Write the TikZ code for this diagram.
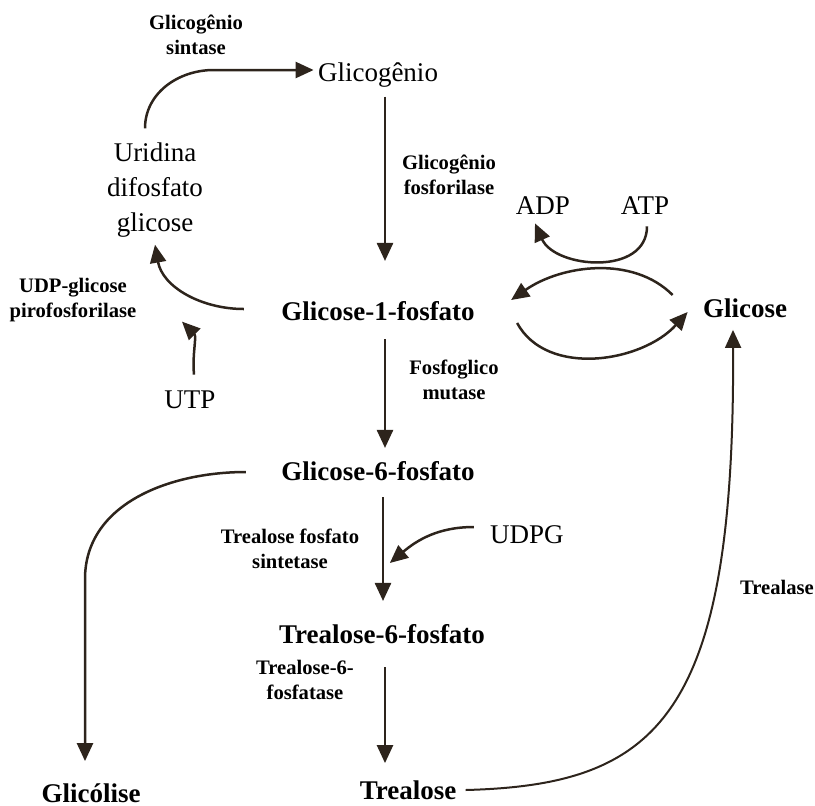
\documentclass[tikz,border=0pt]{standalone}
\usepackage{fontspec}
\setmainfont{Liberation Serif}
\usepackage{tikz}
\usetikzlibrary{arrows.meta,calc}

\begin{document}
\begin{tikzpicture}[
  x=0.5pt, y=-0.5pt,
  mol/.style={align=center, inner sep=2pt, font=\fontsize{13.5}{17.5}\selectfont},
  molb/.style={mol, font=\fontsize{13.5}{17.5}\selectfont\bfseries},
  enz/.style={align=center, inner sep=1pt, font=\fontsize{10.3}{12.8}\selectfont\bfseries},
  arr/.style={-{Triangle[length=9pt,width=8pt]}, line width=1.25pt, draw=brn}
]
  \definecolor{brn}{HTML}{2D241C}
  \useasboundingbox (0,0) rectangle (815,805);
  % molecules
  \node[mol] (glicogenio) at (378,75) {Glicogênio};
  \node[mol] (udpgl) at (155,190) {Uridina\\difosfato\\glicose};
  \node[molb] (g1p) at (378,311) {Glicose-1-fosfato};
  \node[mol] (utp) at (190,400) {UTP};
  \node[mol] (adp) at (543,206) {ADP};
  \node[mol] (atp) at (645,206) {ATP};
  \node[molb] (glicose) at (745,308) {Glicose};
  \node[molb] (g6p) at (378,471) {Glicose-6-fosfato};
  \node[mol] (udpg) at (527,535) {UDPG};
  \node[molb] (t6p) at (382,634) {Trealose-6-fosfato};
  \node[molb] (glicolise) at (91,793) {Glicólise};
  \node[molb] (trealose) at (408,790) {Trealose};
  % enzymes
  \node[enz] (gsint) at (196,35) {Glicogênio\\sintase};
  \node[enz] (gfos) at (449,175) {Glicogênio\\fosforilase};
  \node[enz] (udppir) at (73,300) {UDP-glicose\\pirofosforilase};
  \node[enz] (fosmut) at (454,380) {Fosfoglico\\mutase};
  \node[enz] (tfs) at (290,549) {Trealose fosfato\\sintetase};
  \node[enz] (t6pase) at (305,680) {Trealose-6-\\fosfatase};
  \node[enz] (trealase) at (777,587) {Trealase};
  % arrows
  \coordinate (gs) at ($(glicogenio.west)+(-100,-5)$);
  \draw[arr] ($(udpgl.north)+(-10,-10)$) to[out=90,in=180] (gs) -- ($(glicogenio.west)+(0,-5)$);
  \draw[arr] ($(glicogenio.south)+(7,5)$) -- ($(g1p.north)+(7,-36)$);
  \draw[arr] ($(g1p.west)+(-33,-2)$) to[out=180,in=-80] ($(udpgl.south)+(0,3)$);
  \draw[arr] ($(utp.north)+(4,-12)$) to[out=95,in=-45] ($(utp.north)+(-8,-65)$);
  \draw[arr] ($(g1p.south)+(7,14)$) -- ($(g6p.north)+(7,-9)$);
  \draw[arr] ($(atp.south)+(2,7)$) .. controls +(0,50) and +(20,45) .. ($(adp.south)+(-8,4)$);
  \draw[arr] ($(glicose.west)+(-26,-13)$) .. controls +(-40,-40) and +(50,-35) .. ($(g1p.east)+(32,-11)$);
  \draw[arr] ($(g1p.east)+(38,12)$) .. controls +(30,55) and +(-45,50) .. ($(glicose.west)+(-11,4)$);
  \coordinate (gc) at ($(glicolise.north)+(-6,-200)$);
  \draw[arr] ($(g6p.west)+(-31,1)$) to[out=180,in=90] (gc) -- ($(glicolise.north)+(-6,-18)$);
  \draw[arr] ($(g6p.south)+(5,12)$) -- ($(t6p.north)+(1,-19)$);
  \draw[arr] ($(udpg.west)+(-12,-8)$) to[out=180,in=40] ($(udpg.west)+(-96,28)$);
  \draw[arr] ($(t6p.south)+(3,19)$) -- ($(trealose.north)+(-23,-13)$);
  \draw[arr, line width=1pt] ($(trealose.east)+(5,0)$) .. controls +(193,-5) and +(2,387) .. ($(glicose.south)+(-12,8)$);
\end{tikzpicture}
\end{document}
